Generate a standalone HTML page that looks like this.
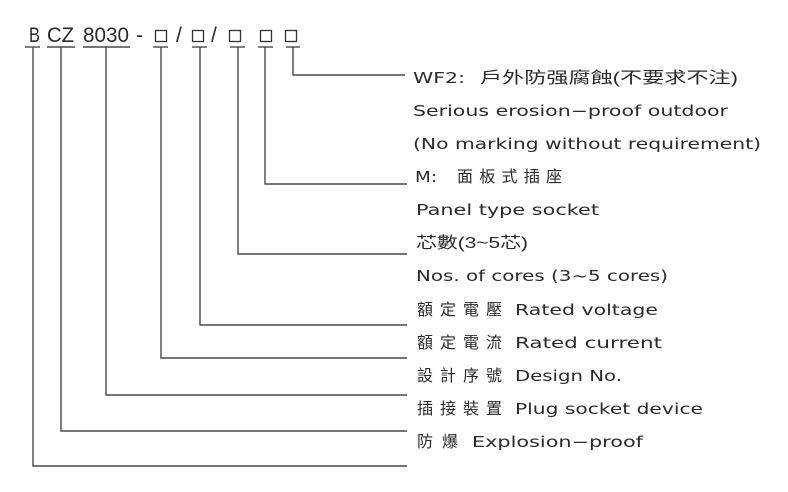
<!DOCTYPE html>
<html>
<head>
<meta charset="utf-8">
<style>
  html, body { margin:0; padding:0; background:#fff; }
  body { width:788px; height:492px; overflow:hidden; }
  svg { display:block; }
  .hd { font-family:"Liberation Sans", sans-serif; font-size:21px; fill:#2a2a2a; }
  .lt { font-family:"DejaVu Sans", "Liberation Sans", sans-serif; font-size:15px; fill:#2a2a2a; }
  .cj { font-family:"Liberation Sans", "Noto Sans CJK TC", "Noto Sans CJK SC", sans-serif; font-size:16px; fill:#2a2a2a; }
</style>
</head>
<body>
<svg width="788" height="492" viewBox="0 0 788 492" xmlns="http://www.w3.org/2000/svg">
  <!-- header -->
  <text class="hd" x="29" y="42" textLength="11" lengthAdjust="spacingAndGlyphs">B</text>
  <text class="hd" x="47" y="42" textLength="27" lengthAdjust="spacingAndGlyphs">CZ</text>
  <text class="hd" x="83" y="42" textLength="46" lengthAdjust="spacingAndGlyphs">8030</text>
  <text class="hd" x="136" y="42">-</text>
  <text class="hd" x="176" y="42">/</text>
  <text class="hd" x="211" y="42">/</text>
  <g fill="none" stroke="#333" stroke-width="1.3">
    <rect x="155.5" y="30.5" width="11" height="11"/>
    <rect x="192.5" y="30.5" width="11" height="11"/>
    <rect x="229.5" y="30.5" width="11" height="11"/>
    <rect x="260.5" y="30.5" width="11" height="11"/>
    <rect x="285.5" y="30.5" width="11" height="11"/>
  </g>

  <!-- underlines and connectors -->
  <g fill="none" stroke="#4a4a4a" stroke-width="1.4">
    <line x1="25" y1="47" x2="40" y2="47"/>
    <line x1="47" y1="47" x2="75" y2="47"/>
    <line x1="83" y1="47" x2="130" y2="47"/>
    <line x1="153" y1="47" x2="168" y2="47"/>
    <line x1="192" y1="47" x2="207" y2="47"/>
    <line x1="230" y1="47" x2="245" y2="47"/>
    <line x1="258" y1="47" x2="273" y2="47"/>
    <line x1="286" y1="47" x2="300" y2="47"/>

    <polyline points="293,47 293,75 405,75"/>
    <polyline points="265,47 265,184 407,184"/>
    <polyline points="238,47 238,254 407,254"/>
    <polyline points="200,47 200,325 407,325"/>
    <polyline points="161,47 161,358 407,358"/>
    <polyline points="106,47 106,395 407,395"/>
    <polyline points="61,47 61,431 407,431"/>
    <polyline points="33,47 33,466 407,466"/>
  </g>

  <!-- labels -->
  <text class="lt" x="413" y="83" textLength="52" lengthAdjust="spacingAndGlyphs">WF2:</text>
  <text class="cj" x="480" y="83" textLength="258" lengthAdjust="spacingAndGlyphs">戶外防强腐蝕(不要求不注)</text>

  <text class="lt" x="413" y="116" textLength="315" lengthAdjust="spacingAndGlyphs">Serious erosion−proof outdoor</text>
  <text class="lt" x="413" y="149" textLength="348" lengthAdjust="spacingAndGlyphs">(No marking without requirement)</text>

  <text class="lt" x="415" y="182" textLength="22" lengthAdjust="spacingAndGlyphs">M:</text>
  <text class="cj" x="457" y="182" textLength="105" lengthAdjust="spacing">面板式插座</text>

  <text class="lt" x="416" y="215" textLength="183" lengthAdjust="spacingAndGlyphs">Panel type socket</text>

  <text class="cj" x="416" y="248" textLength="112" lengthAdjust="spacingAndGlyphs">芯數(3~5芯)</text>

  <text class="lt" x="416" y="281" textLength="252" lengthAdjust="spacingAndGlyphs">Nos. of cores (3~5 cores)</text>

  <text class="cj" x="417" y="315" textLength="85" lengthAdjust="spacing">額定電壓</text>
  <text class="lt" x="515" y="315" textLength="143" lengthAdjust="spacingAndGlyphs">Rated voltage</text>

  <text class="cj" x="417" y="348" textLength="85" lengthAdjust="spacing">額定電流</text>
  <text class="lt" x="515" y="348" textLength="147" lengthAdjust="spacingAndGlyphs">Rated current</text>

  <text class="cj" x="417" y="381" textLength="85" lengthAdjust="spacing">設計序號</text>
  <text class="lt" x="515" y="381" textLength="107" lengthAdjust="spacingAndGlyphs">Design No.</text>

  <text class="cj" x="417" y="414" textLength="85" lengthAdjust="spacing">插接裝置</text>
  <text class="lt" x="515" y="414" textLength="188" lengthAdjust="spacingAndGlyphs">Plug socket device</text>

  <text class="cj" x="417" y="447" textLength="41" lengthAdjust="spacing">防爆</text>
  <text class="lt" x="472" y="447" textLength="171" lengthAdjust="spacingAndGlyphs">Explosion−proof</text>
</svg>
</body>
</html>
